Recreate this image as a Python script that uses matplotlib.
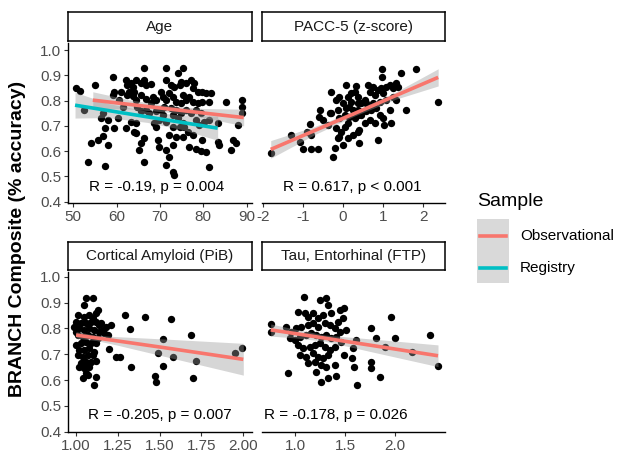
import matplotlib
matplotlib.use("Agg")
import matplotlib.pyplot as plt
import numpy as np

plt.rcParams['font.family'] = ['Liberation Sans', 'DejaVu Sans']

# ---- data ----
# Age panel
age_x = [50.6, 51.5, 52.5, 55.1, 54.1, 55.6, 53.5, 57.4, 56.8, 56.4, 57.9, 57.4, 56.9, 58.1,
         59.1, 59.5, 59.1, 60.2, 59.5, 62.1, 62.1, 62.5, 63.3, 63.7, 62.9, 64.1, 62.5, 63.7,
         64.5, 64.5, 65.6, 66.8, 66.4, 67.9, 66.4, 64.8, 65.6, 66.8, 67.5, 63.3, 64.5, 64.1,
         64.5, 66.4, 65.6, 65.2, 66.4, 69.5, 69.7, 68.3, 69.1, 70.2, 70.6, 71.4, 71.0, 70.2,
         71.4, 74.1, 75.2, 71.4, 72.5, 73.3, 74.5, 74.8, 76.0, 77.1, 77.9, 77.5, 78.7, 79.8,
         80.6, 81.8, 72.1, 72.9, 73.7, 74.8, 76.0, 75.2, 76.8, 77.5, 78.7, 79.8, 81.4, 72.9,
         74.1, 75.2, 75.6, 76.4, 77.5, 78.3, 79.1, 80.2, 81.4, 72.1, 73.7, 75.2, 72.9, 71.4,
         72.1, 71.4, 72.9, 73.3, 76.8, 78.3, 79.5, 80.6, 79.8, 81.4, 83.3, 83.7, 85.2, 89.0,
         89.0, 88.8, 87.9, 86.8, 87.5, 86.4, 83.3, 68.7, 69.8, 69.1, 67.9, 66.8, 65.6, 72.5,
         73.7, 74.8, 76.0, 77.1, 78.3, 79.5, 74.5, 72.9, 71.4, 70.6, 69.1, 60.6, 61.4, 61.0]
age_y = [0.848, 0.839, 0.763, 0.862, 0.631, 0.644, 0.558, 0.541, 0.750, 0.730, 0.723, 0.690,
         0.660, 0.624, 0.895, 0.835, 0.822, 0.730, 0.690, 0.690, 0.882, 0.862, 0.868, 0.855,
         0.835, 0.835, 0.822, 0.818, 0.802, 0.882, 0.868, 0.862, 0.882, 0.866, 0.931, 0.776,
         0.757, 0.763, 0.750, 0.717, 0.710, 0.677, 0.671, 0.651, 0.631, 0.605, 0.558, 0.644,
         0.615, 0.816, 0.802, 0.835, 0.816, 0.802, 0.776, 0.763, 0.928, 0.908, 0.928, 0.882,
         0.862, 0.855, 0.862, 0.875, 0.868, 0.882, 0.868, 0.848, 0.835, 0.835, 0.829, 0.829,
         0.829, 0.816, 0.796, 0.789, 0.802, 0.822, 0.816, 0.796, 0.789, 0.796, 0.796, 0.743,
         0.730, 0.710, 0.697, 0.677, 0.664, 0.723, 0.704, 0.717, 0.723, 0.664, 0.657, 0.657,
         0.624, 0.605, 0.578, 0.545, 0.519, 0.506, 0.615, 0.607, 0.602, 0.598, 0.644, 0.539,
         0.638, 0.624, 0.796, 0.802, 0.776, 0.750, 0.704, 0.644, 0.631, 0.605, 0.710, 0.710,
         0.723, 0.697, 0.789, 0.808, 0.822, 0.769, 0.763, 0.750, 0.763, 0.750, 0.763, 0.750,
         0.697, 0.697, 0.717, 0.743, 0.757, 0.802, 0.776, 0.835]

# PACC-5 panel
pacc_x = [-1.80, -1.29, -1.08, -1.00, -0.79, -0.62, -0.83, -0.79, -0.89, -0.58, -0.61, -0.33,
          -0.25, -0.21, -0.13, 0.00, -0.09, -0.29, 0.08, 0.33, -0.17, -0.09, 0.00, 0.12, 0.20,
          0.29, 0.37, 0.08, 0.16, 0.25, 0.37, 0.45, 0.54, 0.62, 0.74, 0.66, 0.79, 0.87, 0.95,
          0.99, 1.07, 1.16, 1.24, 1.32, 1.37, 1.45, 0.97, 0.97, 1.82, -0.09, 0.04, 0.16, 0.29,
          0.37, 0.45, 0.58, 0.70, 0.83, 0.91, 0.99, 1.16, 1.20, 1.02, 0.79, 0.66, 0.41, 0.25,
          0.37, 0.04, -0.17, 0.41, 0.87, 1.32, 1.57, 2.36, 1.24, 1.07, 0.91, 0.74, 0.58, 0.37,
          0.20, -0.13, -0.29, -0.50, -0.38, 0.12, 0.54, 0.12, -0.04]
pacc_y = [0.594, 0.664, 0.638, 0.607, 0.607, 0.607, 0.707, 0.664, 0.677, 0.763, 0.736, 0.750,
          0.578, 0.611, 0.651, 0.624, 0.657, 0.835, 0.862, 0.858, 0.802, 0.816, 0.789, 0.816,
          0.829, 0.835, 0.816, 0.769, 0.776, 0.763, 0.763, 0.789, 0.802, 0.862, 0.855, 0.835,
          0.822, 0.842, 0.848, 0.829, 0.855, 0.862, 0.848, 0.868, 0.855, 0.908, 0.924, 0.895,
          0.924, 0.730, 0.743, 0.736, 0.730, 0.743, 0.743, 0.757, 0.763, 0.769, 0.743, 0.730,
          0.763, 0.710, 0.704, 0.710, 0.723, 0.684, 0.664, 0.677, 0.697, 0.690, 0.631, 0.644,
          0.802, 0.763, 0.796, 0.816, 0.802, 0.796, 0.789, 0.789, 0.789, 0.796, 0.763, 0.750,
          0.723, 0.704, 0.710, 0.710, 0.651, 0.677]

# Cortical amyloid panel
amy_x = [1.29, 1.41, 1.57, 1.32, 1.21, 1.52, 1.69, 1.20, 1.24, 1.26, 1.49, 1.58, 1.52, 1.33,
         1.72, 1.47, 1.48, 1.70, 1.95, 1.99, 1.06, 1.10, 1.05, 1.13, 1.12, 1.01, 1.05, 1.08,
         1.10, 1.00, 1.03, 1.06, 1.09, 1.12, 1.15, 1.18, 1.02, 1.05, 1.08, 1.11, 1.14, 1.17,
         1.19, 1.01, 1.04, 1.07, 1.10, 1.13, 1.00, 1.03, 1.06, 1.09, 1.12, 1.02, 1.05, 1.08,
         1.11, 1.01, 1.04, 1.07, 1.10, 1.03, 1.06, 1.09, 1.12, 1.02, 1.05, 1.08, 1.06, 1.04,
         1.07, 1.12, 1.11, 1.14, 1.16, 0.99, 1.00]
amy_y = [0.852, 0.843, 0.835, 0.796, 0.813, 0.758, 0.774, 0.719, 0.688, 0.691, 0.706, 0.688,
         0.656, 0.649, 0.674, 0.617, 0.594, 0.609, 0.706, 0.723, 0.916, 0.916, 0.891, 0.871,
         0.858, 0.852, 0.845, 0.852, 0.839, 0.826, 0.820, 0.820, 0.826, 0.826, 0.820, 0.807,
         0.800, 0.794, 0.800, 0.794, 0.787, 0.781, 0.774, 0.774, 0.768, 0.774, 0.768, 0.762,
         0.736, 0.742, 0.749, 0.742, 0.742, 0.716, 0.716, 0.723, 0.710, 0.697, 0.691, 0.697,
         0.697, 0.665, 0.671, 0.671, 0.674, 0.652, 0.645, 0.652, 0.626, 0.607, 0.620, 0.613,
         0.581, 0.813, 0.794, 0.807, 0.787]

# Entorhinal tau panel
tau_x = [0.76, 0.76, 1.09, 1.25, 1.31, 1.33, 1.03, 1.10, 1.13, 1.18, 1.23, 1.28, 1.36, 1.45,
         1.49, 1.48, 1.43, 0.91, 0.96, 1.01, 1.06, 1.13, 1.18, 1.23, 1.30, 1.35, 1.40, 1.45,
         1.51, 0.95, 1.00, 1.05, 1.11, 1.16, 1.21, 1.26, 1.31, 1.36, 1.41, 1.46, 1.03, 1.08,
         1.15, 1.20, 1.25, 1.30, 1.35, 1.40, 1.05, 1.11, 1.18, 1.23, 1.28, 1.33, 1.13, 1.20,
         1.26, 1.31, 1.40, 1.21, 1.33, 1.41, 1.26, 0.93, 1.49, 1.58, 1.57, 1.59, 1.61, 1.62,
         1.76, 1.81, 1.76, 1.76, 1.85, 1.90, 1.96, 2.00, 2.17, 2.35, 2.43]
tau_y = [0.787, 0.816, 0.923, 0.910, 0.919, 0.891, 0.865, 0.858, 0.845, 0.858, 0.839, 0.852,
         0.858, 0.871, 0.878, 0.839, 0.826, 0.807, 0.787, 0.800, 0.807, 0.813, 0.820, 0.807,
         0.820, 0.813, 0.800, 0.787, 0.794, 0.762, 0.755, 0.768, 0.774, 0.781, 0.774, 0.768,
         0.774, 0.762, 0.768, 0.749, 0.736, 0.723, 0.729, 0.736, 0.742, 0.729, 0.716, 0.729,
         0.697, 0.691, 0.704, 0.691, 0.684, 0.697, 0.665, 0.671, 0.658, 0.652, 0.658, 0.633,
         0.607, 0.617, 0.594, 0.626, 0.697, 0.723, 0.684, 0.652, 0.755, 0.581, 0.800, 0.762,
         0.671, 0.645, 0.613, 0.729, 0.843, 0.762, 0.710, 0.774, 0.656]

# fitted lines and confidence bands
age_obs_fx = [54.5, 63.0, 72.0, 80.0, 89.3]
age_obs_fy = [0.802, 0.785, 0.767, 0.751, 0.733]
age_obs_lo = [0.769, 0.767, 0.754, 0.733, 0.700]
age_obs_hi = [0.835, 0.803, 0.780, 0.769, 0.766]
age_reg_fx = [50.4, 58.0, 67.0, 75.0, 83.3]
age_reg_fy = [0.782, 0.761, 0.736, 0.714, 0.691]
age_reg_lo = [0.731, 0.733, 0.714, 0.686, 0.643]
age_reg_hi = [0.833, 0.789, 0.758, 0.742, 0.739]
pacc_fx = [-1.80, -0.70, 0.30, 1.30, 2.37]
pacc_fy = [0.607, 0.682, 0.750, 0.819, 0.892]
pacc_lo = [0.572, 0.666, 0.740, 0.805, 0.858]
pacc_hi = [0.642, 0.698, 0.760, 0.833, 0.926]
amy_fx = [1.00, 1.12, 1.24, 1.52, 2.00]
amy_fy = [0.774, 0.763, 0.752, 0.726, 0.680]
amy_lo = [0.762, 0.753, 0.736, 0.693, 0.619]
amy_hi = [0.787, 0.773, 0.768, 0.759, 0.742]
tau_fx = [0.757, 1.00, 1.30, 1.85, 2.43]
tau_fy = [0.794, 0.780, 0.762, 0.729, 0.694]
tau_lo = [0.770, 0.763, 0.750, 0.702, 0.652]
tau_hi = [0.817, 0.797, 0.774, 0.756, 0.736]

titles = ['Age', 'PACC-5 (z-score)', 'Cortical Amyloid (PiB)', 'Tau, Entorhinal (FTP)']
stats = ['R = -0.19, p = 0.004', 'R = 0.617, p < 0.001',
         'R = -0.205, p = 0.007', 'R = -0.178, p = 0.026']
xticks = [[50, 60, 70, 80, 90], [-2, -1, 0, 1, 2],
          [1.0, 1.25, 1.5, 1.75, 2.0], [1.0, 1.5, 2.0]]
xticklabels = [['50', '60', '70', '80', '90'], ['-2', '-1', '0', '1', '2'],
               ['1.00', '1.25', '1.50', '1.75', '2.00'], ['1.0', '1.5', '2.0']]
yticks = [0.4, 0.5, 0.6, 0.7, 0.8, 0.9, 1.0]

OBS = '#F8766D'
REG = '#00BFC4'

W, H = 620, 455
fig = plt.figure(figsize=(6.2, 4.55), dpi=100)


def box(x0, y0, x1, y1):
    # pixel box (top-left origin) -> figure fraction rect
    return [x0 / W, 1 - y1 / H, (x1 - x0) / W, (y1 - y0) / H]


panels = [
    dict(ax=box(68, 43, 252, 203), strip=box(68, 12, 252, 41), xlim=(48.78, 91.22),
         ylim=(0.395, 1.028), tx=0.484, ty=0.10),
    dict(ax=box(262, 43, 445, 203), strip=box(262, 12, 445, 41), xlim=(-2.017, 2.54),
         ylim=(0.395, 1.028), tx=0.495, ty=0.10),
    dict(ax=box(68, 272, 252, 432), strip=box(68, 242, 252, 270), xlim=(0.952, 2.052),
         ylim=(0.399, 1.018), tx=0.497, ty=0.106),
    dict(ax=box(262, 272, 445, 432), strip=box(262, 242, 445, 270), xlim=(0.67, 2.5),
         ylim=(0.399, 1.018), tx=0.402, ty=0.106),
]

scatter = [(age_x, age_y), (pacc_x, pacc_y), (amy_x, amy_y), (tau_x, tau_y)]
fits = [
    [(age_obs_fx, age_obs_fy, age_obs_lo, age_obs_hi, OBS),
     (age_reg_fx, age_reg_fy, age_reg_lo, age_reg_hi, REG)],
    [(pacc_fx, pacc_fy, pacc_lo, pacc_hi, OBS)],
    [(amy_fx, amy_fy, amy_lo, amy_hi, OBS)],
    [(tau_fx, tau_fy, tau_lo, tau_hi, OBS)],
]

for i, p in enumerate(panels):
    ax = fig.add_axes(p['ax'])
    xs, ys = scatter[i]
    ax.scatter(xs, ys, s=28, color='black', linewidths=0, zorder=2)
    for fx, fy, lo, hi, col in fits[i]:
        ax.fill_between(fx, lo, hi, color='#999999', alpha=0.4, linewidth=0, zorder=3)
        ax.plot(fx, fy, color=col, lw=2.6, zorder=4, solid_capstyle='butt')
    ax.text(p['tx'], p['ty'], stats[i], transform=ax.transAxes, ha='center', va='center',
            fontsize=11, color='black')
    ax.set_xlim(*p['xlim'])
    ax.set_ylim(*p['ylim'])
    ax.set_xticks(xticks[i])
    ax.set_xticklabels(xticklabels[i])
    for s in ['top', 'right']:
        ax.spines[s].set_visible(False)
    ax.spines['bottom'].set_linewidth(1.0)
    ax.spines['left'].set_linewidth(1.0)
    ax.tick_params(axis='both', colors='#333333', labelcolor='#4D4D4D', labelsize=11,
                   length=3, width=0.8, pad=2)
    if i % 2 == 0:
        ax.set_yticks(yticks)
        ax.set_yticklabels(['%.1f' % v for v in yticks])
    else:
        ax.spines['left'].set_visible(False)
        ax.set_yticks([])

    sax = fig.add_axes(p['strip'])
    sax.set_xticks([])
    sax.set_yticks([])
    for s in sax.spines.values():
        s.set_linewidth(1.1)
        s.set_color('black')
    sax.text(0.5, 0.5, titles[i], ha='center', va='center', fontsize=11, color='#1A1A1A')

fig.text(18 / W, 1 - 239 / H, 'BRANCH Composite (% accuracy)', rotation=90,
         ha='center', va='center', fontsize=14, fontweight='bold')

# legend drawn by hand
fig.text(477 / W, 1 - 201 / H, 'Sample', ha='left', va='center', fontsize=14)
fig.patches.append(plt.Rectangle((477 / W, 1 - 283 / H), 32 / W, 64 / H,
                                 transform=fig.transFigure, facecolor='#D9D9D9',
                                 edgecolor='none'))
legend_labels = ['Observational', 'Registry']
legend_colors = [OBS, REG]
for k, (lab, col) in enumerate(zip(legend_labels, legend_colors)):
    yy = 1 - (236 + 32 * k) / H
    fig.add_artist(plt.Line2D([480 / W, 506 / W], [yy, yy], transform=fig.transFigure,
                              color=col, lw=2.6))
    fig.text(520 / W, yy, lab, ha='left', va='center', fontsize=11)

fig.savefig('out.png', dpi=100)
